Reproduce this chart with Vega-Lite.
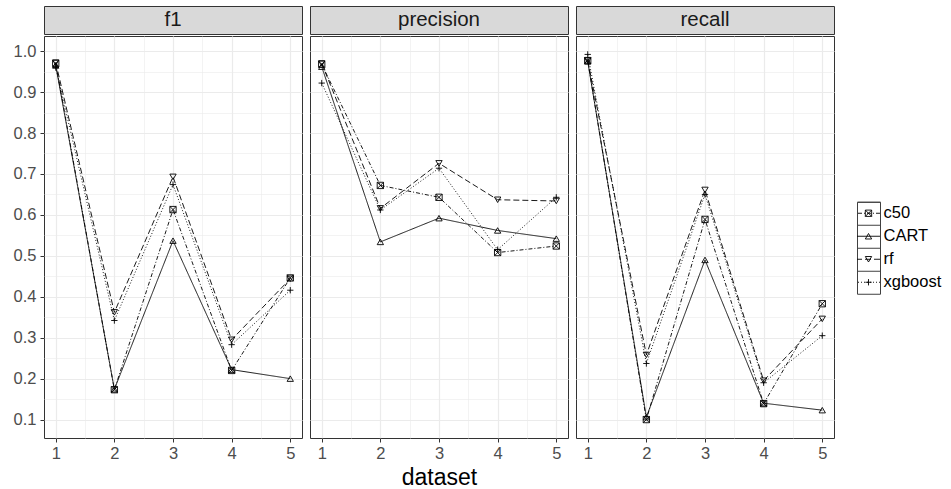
{
  "$schema": "https://vega.github.io/schema/vega-lite/v6.json",
  "background": "white",
  "padding": {"left": 12, "top": 5, "right": 0, "bottom": 0},
  "config": {
    "font": "Liberation Sans",
    "view": {"stroke": "#333333", "strokeWidth": 1}
  },
  "datasets": {
    "scores": [
      {"metric": "f1", "dataset": 1, "model": "c50", "value": 0.970},
      {"metric": "f1", "dataset": 1, "model": "CART", "value": 0.965},
      {"metric": "f1", "dataset": 1, "model": "rf", "value": 0.972},
      {"metric": "f1", "dataset": 1, "model": "xgboost", "value": 0.960},
      {"metric": "f1", "dataset": 2, "model": "c50", "value": 0.173},
      {"metric": "f1", "dataset": 2, "model": "CART", "value": 0.174},
      {"metric": "f1", "dataset": 2, "model": "rf", "value": 0.362},
      {"metric": "f1", "dataset": 2, "model": "xgboost", "value": 0.342},
      {"metric": "f1", "dataset": 3, "model": "c50", "value": 0.613},
      {"metric": "f1", "dataset": 3, "model": "CART", "value": 0.537},
      {"metric": "f1", "dataset": 3, "model": "rf", "value": 0.693},
      {"metric": "f1", "dataset": 3, "model": "xgboost", "value": 0.674},
      {"metric": "f1", "dataset": 4, "model": "c50", "value": 0.220},
      {"metric": "f1", "dataset": 4, "model": "CART", "value": 0.222},
      {"metric": "f1", "dataset": 4, "model": "rf", "value": 0.295},
      {"metric": "f1", "dataset": 4, "model": "xgboost", "value": 0.283},
      {"metric": "f1", "dataset": 5, "model": "c50", "value": 0.446},
      {"metric": "f1", "dataset": 5, "model": "CART", "value": 0.200},
      {"metric": "f1", "dataset": 5, "model": "rf", "value": 0.444},
      {"metric": "f1", "dataset": 5, "model": "xgboost", "value": 0.416},
      {"metric": "precision", "dataset": 1, "model": "c50", "value": 0.968},
      {"metric": "precision", "dataset": 1, "model": "CART", "value": 0.962},
      {"metric": "precision", "dataset": 1, "model": "rf", "value": 0.970},
      {"metric": "precision", "dataset": 1, "model": "xgboost", "value": 0.922},
      {"metric": "precision", "dataset": 2, "model": "c50", "value": 0.672},
      {"metric": "precision", "dataset": 2, "model": "CART", "value": 0.534},
      {"metric": "precision", "dataset": 2, "model": "rf", "value": 0.616},
      {"metric": "precision", "dataset": 2, "model": "xgboost", "value": 0.612},
      {"metric": "precision", "dataset": 3, "model": "c50", "value": 0.643},
      {"metric": "precision", "dataset": 3, "model": "CART", "value": 0.592},
      {"metric": "precision", "dataset": 3, "model": "rf", "value": 0.726},
      {"metric": "precision", "dataset": 3, "model": "xgboost", "value": 0.714},
      {"metric": "precision", "dataset": 4, "model": "c50", "value": 0.508},
      {"metric": "precision", "dataset": 4, "model": "CART", "value": 0.562},
      {"metric": "precision", "dataset": 4, "model": "rf", "value": 0.637},
      {"metric": "precision", "dataset": 4, "model": "xgboost", "value": 0.515},
      {"metric": "precision", "dataset": 5, "model": "c50", "value": 0.524},
      {"metric": "precision", "dataset": 5, "model": "CART", "value": 0.542},
      {"metric": "precision", "dataset": 5, "model": "rf", "value": 0.634},
      {"metric": "precision", "dataset": 5, "model": "xgboost", "value": 0.643},
      {"metric": "recall", "dataset": 1, "model": "c50", "value": 0.977},
      {"metric": "recall", "dataset": 1, "model": "CART", "value": 0.975},
      {"metric": "recall", "dataset": 1, "model": "rf", "value": 0.977},
      {"metric": "recall", "dataset": 1, "model": "xgboost", "value": 0.992},
      {"metric": "recall", "dataset": 2, "model": "c50", "value": 0.100},
      {"metric": "recall", "dataset": 2, "model": "CART", "value": 0.106},
      {"metric": "recall", "dataset": 2, "model": "rf", "value": 0.258},
      {"metric": "recall", "dataset": 2, "model": "xgboost", "value": 0.237},
      {"metric": "recall", "dataset": 3, "model": "c50", "value": 0.589},
      {"metric": "recall", "dataset": 3, "model": "CART", "value": 0.490},
      {"metric": "recall", "dataset": 3, "model": "rf", "value": 0.661},
      {"metric": "recall", "dataset": 3, "model": "xgboost", "value": 0.650},
      {"metric": "recall", "dataset": 4, "model": "c50", "value": 0.139},
      {"metric": "recall", "dataset": 4, "model": "CART", "value": 0.140},
      {"metric": "recall", "dataset": 4, "model": "rf", "value": 0.195},
      {"metric": "recall", "dataset": 4, "model": "xgboost", "value": 0.190},
      {"metric": "recall", "dataset": 5, "model": "c50", "value": 0.383},
      {"metric": "recall", "dataset": 5, "model": "CART", "value": 0.123},
      {"metric": "recall", "dataset": 5, "model": "rf", "value": 0.346},
      {"metric": "recall", "dataset": 5, "model": "xgboost", "value": 0.305}
    ]
  },
  "center": true,
  "spacing": 21,
  "hconcat": [
    {
      "spacing": 6,
      "hconcat": [
        {
          "spacing": 0,
          "vconcat": [
            {
              "width": 258, "height": 28,
              "data": {"name": "scores"},
              "transform": [{"filter": "datum.metric == 'f1'"}, {"aggregate": [{"op": "count", "as": "n"}], "groupby": ["metric"]}],
              "mark": {"type": "text", "fontSize": 20.5, "color": "#1a1a1a", "baseline": "middle", "align": "center"},
              "encoding": {"text": {"field": "metric"}},
              "view": {"fill": "#d9d9d9", "stroke": "#333333"}
            },
            {
              "width": 258, "height": 402,
              "data": {"name": "scores"},
              "transform": [{"filter": "datum.metric == 'f1'"}],
              "encoding": {
                "x": {"field": "dataset", "type": "quantitative", "scale": {"domain": [0.8, 5.2], "nice": false, "zero": false},
                  "axis": {"values": [1, 1.5, 2, 2.5, 3, 3.5, 4, 4.5, 5], "labelExpr": "datum.value % 1 == 0 ? format(datum.value, 'd') : ''", "gridColor": "#ebebeb", "gridWidth": {"condition": {"test": "datum.value % 1 != 0", "value": 0.6}, "value": 1.2}, "tickOpacity": {"condition": {"test": "datum.value % 1 != 0", "value": 0}, "value": 1}, "tickSize": 4, "tickColor": "#333333", "labelFontSize": 16.5, "labelColor": "#4d4d4d", "labelPadding": 3, "domain": false, "title": null}},
                "y": {"field": "value", "type": "quantitative", "scale": {"domain": [0.055, 1.037], "nice": false, "zero": false},
                  "axis": {"values": [0.1, 0.15, 0.2, 0.25, 0.3, 0.35, 0.4, 0.45, 0.5, 0.55, 0.6, 0.65, 0.7, 0.75, 0.8, 0.85, 0.9, 0.95, 1.0], "labelExpr": "round(datum.value*20) % 2 == 1 ? '' : format(datum.value, '.1f')", "gridColor": "#ebebeb", "gridWidth": {"condition": {"test": "round(datum.value*20) % 2 == 1", "value": 0.6}, "value": 1.2}, "tickOpacity": {"condition": {"test": "round(datum.value*20) % 2 == 1", "value": 0}, "value": 1}, "tickSize": 4, "tickColor": "#333333", "labelFontSize": 16.5, "labelColor": "#4d4d4d", "labelPadding": 4, "domain": false, "title": null}}
              },
              "layer": [
                {"mark": {"type": "line", "color": "black", "strokeWidth": 0.9},
                 "encoding": {"strokeDash": {"field": "model", "type": "nominal", "scale": {"domain": ["c50", "CART", "rf", "xgboost"], "range": [[4, 2, 1, 2], [1, 0], [6, 3], [1, 2]]}, "legend": null}}},
                {"mark": {"type": "point", "filled": false, "color": "black", "size": 40, "strokeWidth": 0.9, "opacity": 1},
                 "encoding": {"shape": {"field": "model", "type": "nominal", "scale": {"domain": ["c50", "CART", "rf", "xgboost"], "range": ["M-1,-1L1,-1L1,1L-1,1Z M-1,-1L1,1 M1,-1L-1,1", "triangle-up", "triangle-down", "M-1,0L1,0M0,-1L0,1"]}, "legend": null}}}
              ]
            }
          ]
        },
        {
          "spacing": 0,
          "vconcat": [
            {
              "width": 258, "height": 28,
              "data": {"name": "scores"},
              "transform": [{"filter": "datum.metric == 'precision'"}, {"aggregate": [{"op": "count", "as": "n"}], "groupby": ["metric"]}],
              "mark": {"type": "text", "fontSize": 20.5, "color": "#1a1a1a", "baseline": "middle", "align": "center"},
              "encoding": {"text": {"field": "metric"}},
              "view": {"fill": "#d9d9d9", "stroke": "#333333"}
            },
            {
              "width": 258, "height": 402,
              "data": {"name": "scores"},
              "transform": [{"filter": "datum.metric == 'precision'"}],
              "encoding": {
                "x": {"field": "dataset", "type": "quantitative", "scale": {"domain": [0.8, 5.2], "nice": false, "zero": false},
                  "axis": {"values": [1, 1.5, 2, 2.5, 3, 3.5, 4, 4.5, 5], "labelExpr": "datum.value % 1 == 0 ? format(datum.value, 'd') : ''", "gridColor": "#ebebeb", "gridWidth": {"condition": {"test": "datum.value % 1 != 0", "value": 0.6}, "value": 1.2}, "tickOpacity": {"condition": {"test": "datum.value % 1 != 0", "value": 0}, "value": 1}, "tickSize": 4, "tickColor": "#333333", "labelFontSize": 16.5, "labelColor": "#4d4d4d", "labelPadding": 3, "domain": false, "title": "dataset", "titleFontSize": 23, "titleFontWeight": "normal", "titleColor": "black", "titlePadding": 5}},
                "y": {"field": "value", "type": "quantitative", "scale": {"domain": [0.055, 1.037], "nice": false, "zero": false},
                  "axis": {"values": [0.1, 0.15, 0.2, 0.25, 0.3, 0.35, 0.4, 0.45, 0.5, 0.55, 0.6, 0.65, 0.7, 0.75, 0.8, 0.85, 0.9, 0.95, 1.0], "labels": false, "ticks": false, "gridColor": "#ebebeb", "gridWidth": {"condition": {"test": "round(datum.value*20) % 2 == 1", "value": 0.6}, "value": 1.2}, "domain": false, "title": null}}
              },
              "layer": [
                {"mark": {"type": "line", "color": "black", "strokeWidth": 0.9},
                 "encoding": {"strokeDash": {"field": "model", "type": "nominal", "scale": {"domain": ["c50", "CART", "rf", "xgboost"], "range": [[4, 2, 1, 2], [1, 0], [6, 3], [1, 2]]}, "legend": null}}},
                {"mark": {"type": "point", "filled": false, "color": "black", "size": 40, "strokeWidth": 0.9, "opacity": 1},
                 "encoding": {"shape": {"field": "model", "type": "nominal", "scale": {"domain": ["c50", "CART", "rf", "xgboost"], "range": ["M-1,-1L1,-1L1,1L-1,1Z M-1,-1L1,1 M1,-1L-1,1", "triangle-up", "triangle-down", "M-1,0L1,0M0,-1L0,1"]}, "legend": null}}}
              ]
            }
          ]
        },
        {
          "spacing": 0,
          "vconcat": [
            {
              "width": 258, "height": 28,
              "data": {"name": "scores"},
              "transform": [{"filter": "datum.metric == 'recall'"}, {"aggregate": [{"op": "count", "as": "n"}], "groupby": ["metric"]}],
              "mark": {"type": "text", "fontSize": 20.5, "color": "#1a1a1a", "baseline": "middle", "align": "center"},
              "encoding": {"text": {"field": "metric"}},
              "view": {"fill": "#d9d9d9", "stroke": "#333333"}
            },
            {
              "width": 258, "height": 402,
              "data": {"name": "scores"},
              "transform": [{"filter": "datum.metric == 'recall'"}],
              "encoding": {
                "x": {"field": "dataset", "type": "quantitative", "scale": {"domain": [0.8, 5.2], "nice": false, "zero": false},
                  "axis": {"values": [1, 1.5, 2, 2.5, 3, 3.5, 4, 4.5, 5], "labelExpr": "datum.value % 1 == 0 ? format(datum.value, 'd') : ''", "gridColor": "#ebebeb", "gridWidth": {"condition": {"test": "datum.value % 1 != 0", "value": 0.6}, "value": 1.2}, "tickOpacity": {"condition": {"test": "datum.value % 1 != 0", "value": 0}, "value": 1}, "tickSize": 4, "tickColor": "#333333", "labelFontSize": 16.5, "labelColor": "#4d4d4d", "labelPadding": 3, "domain": false, "title": null}},
                "y": {"field": "value", "type": "quantitative", "scale": {"domain": [0.055, 1.037], "nice": false, "zero": false},
                  "axis": {"values": [0.1, 0.15, 0.2, 0.25, 0.3, 0.35, 0.4, 0.45, 0.5, 0.55, 0.6, 0.65, 0.7, 0.75, 0.8, 0.85, 0.9, 0.95, 1.0], "labels": false, "ticks": false, "gridColor": "#ebebeb", "gridWidth": {"condition": {"test": "round(datum.value*20) % 2 == 1", "value": 0.6}, "value": 1.2}, "domain": false, "title": null}}
              },
              "layer": [
                {"mark": {"type": "line", "color": "black", "strokeWidth": 0.9},
                 "encoding": {"strokeDash": {"field": "model", "type": "nominal", "scale": {"domain": ["c50", "CART", "rf", "xgboost"], "range": [[4, 2, 1, 2], [1, 0], [6, 3], [1, 2]]}, "legend": null}}},
                {"mark": {"type": "point", "filled": false, "color": "black", "size": 40, "strokeWidth": 0.9, "opacity": 1},
                 "encoding": {"shape": {"field": "model", "type": "nominal", "scale": {"domain": ["c50", "CART", "rf", "xgboost"], "range": ["M-1,-1L1,-1L1,1L-1,1Z M-1,-1L1,1 M1,-1L-1,1", "triangle-up", "triangle-down", "M-1,0L1,0M0,-1L0,1"]}, "legend": null}}}
              ]
            }
          ]
        }
      ]
    },
    {
      "width": 23, "height": 92,
      "data": {"name": "scores"},
      "transform": [{"aggregate": [{"op": "count", "as": "n"}], "groupby": ["model"]}],
      "view": {"stroke": "#404040"},
      "encoding": {
        "y": {"field": "model", "type": "nominal", "sort": ["c50", "CART", "rf", "xgboost"], "scale": {"paddingInner": 0, "paddingOuter": 0},
          "axis": {"orient": "right", "title": null, "ticks": false, "domain": false, "labelFontSize": 16.5, "labelColor": "black", "labelPadding": 3, "grid": true, "gridColor": "#404040", "gridWidth": 1, "bandPosition": 0}}
      },
      "layer": [
        {"mark": {"type": "rule", "color": "black", "strokeWidth": 0.9},
         "encoding": {"strokeDash": {"field": "model", "type": "nominal", "scale": {"domain": ["c50", "CART", "rf", "xgboost"], "range": [[4, 2, 1, 2], [1, 0], [6, 3], [1, 2]]}, "legend": null}}},
        {"mark": {"type": "point", "filled": false, "color": "black", "size": 40, "strokeWidth": 0.9, "opacity": 1},
         "encoding": {"shape": {"field": "model", "type": "nominal", "scale": {"domain": ["c50", "CART", "rf", "xgboost"], "range": ["M-1,-1L1,-1L1,1L-1,1Z M-1,-1L1,1 M1,-1L-1,1", "triangle-up", "triangle-down", "M-1,0L1,0M0,-1L0,1"]}, "legend": null}}}
      ]
    }
  ]
}
